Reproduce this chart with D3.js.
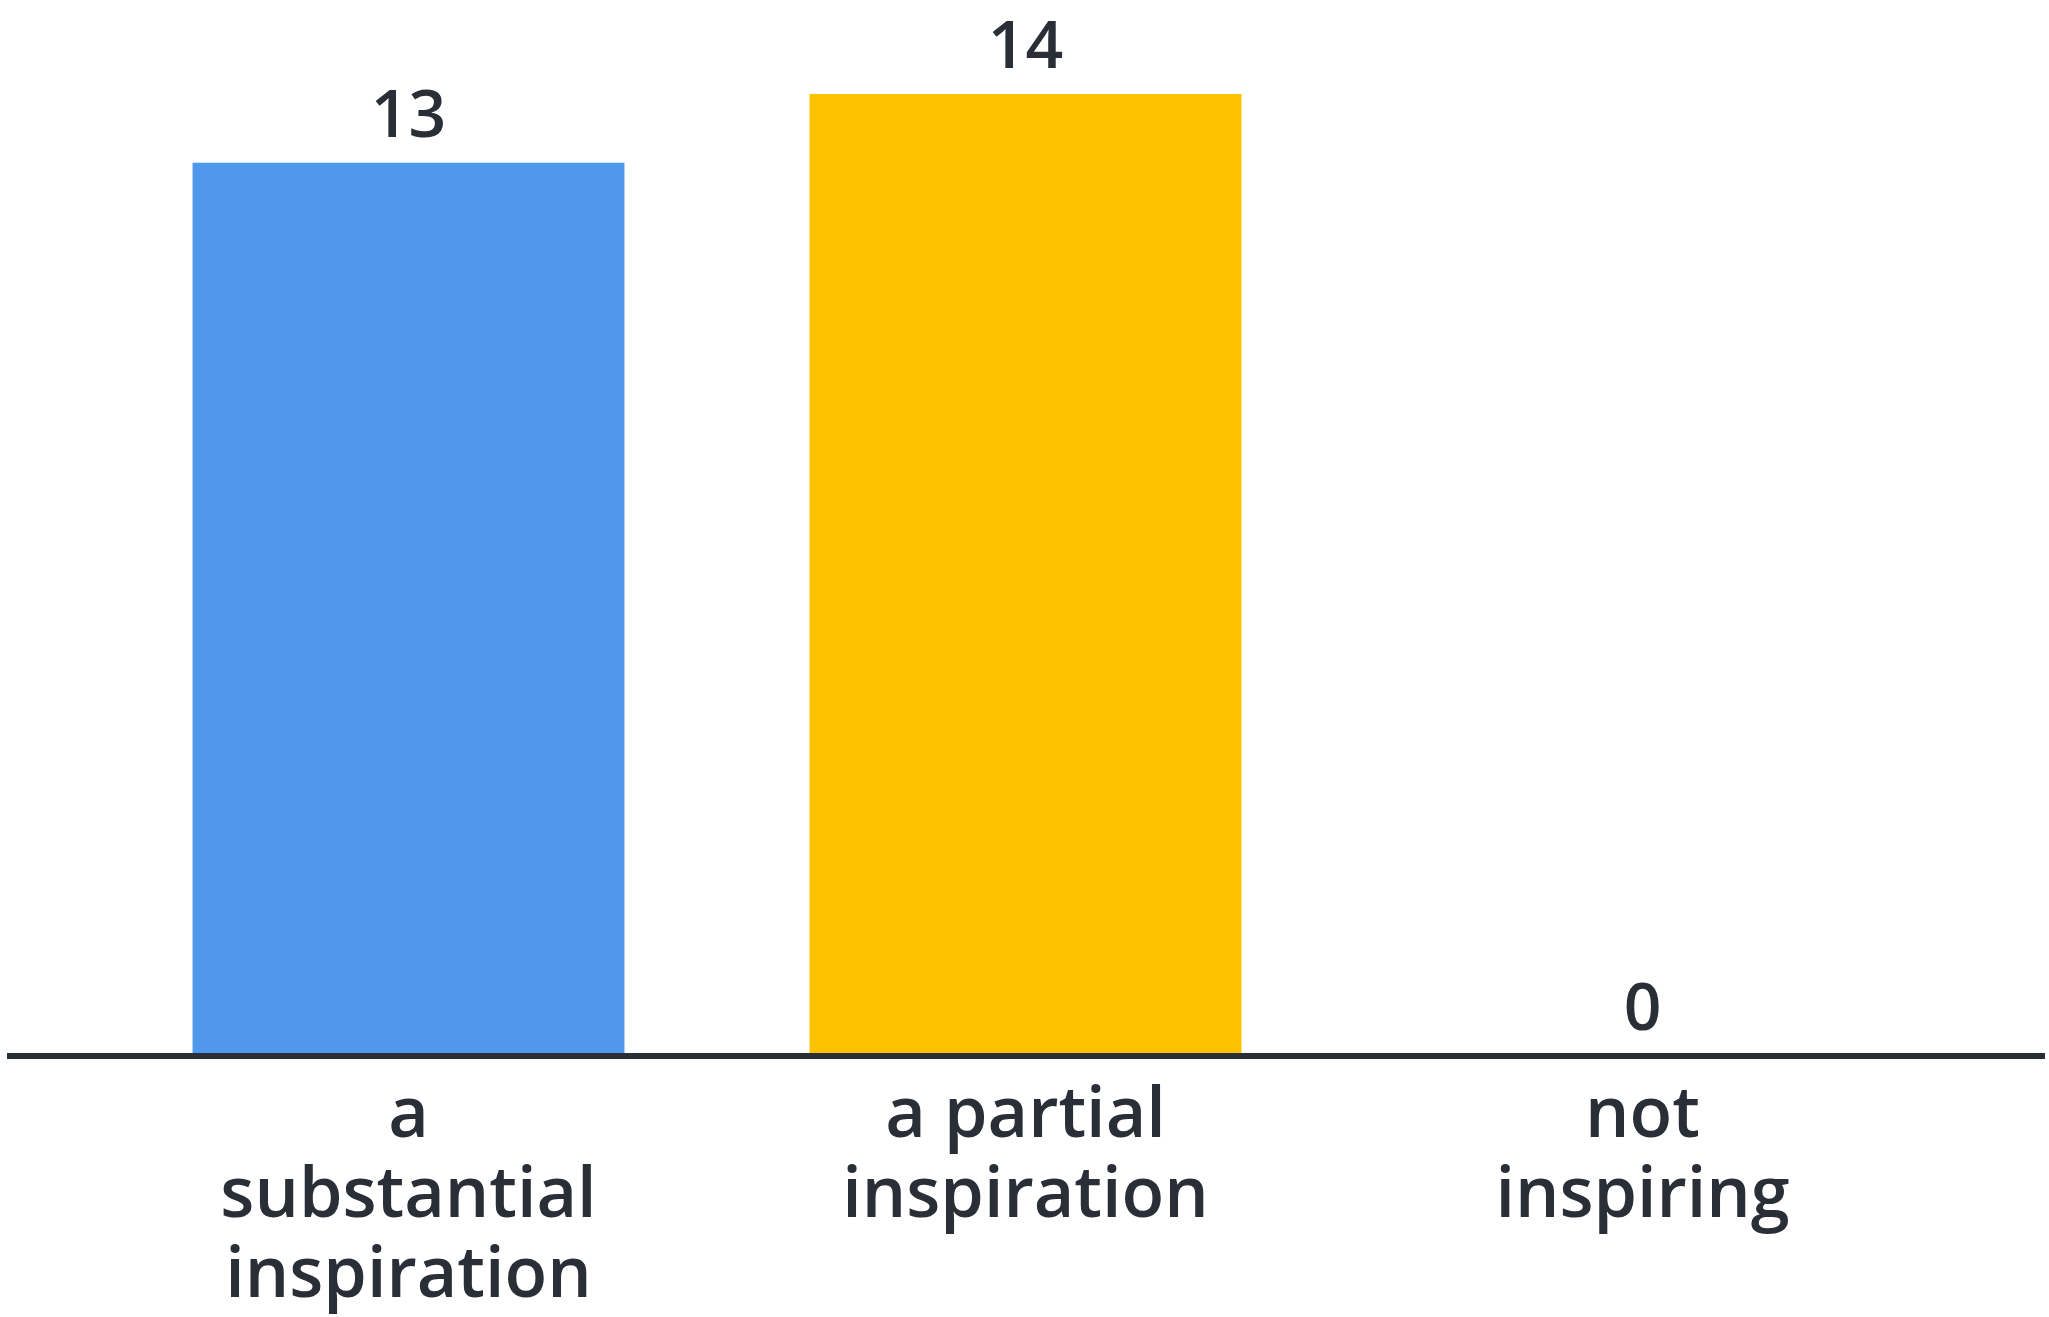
<!DOCTYPE html>
<html>
<head>
<meta charset="utf-8">
<script src="https://cdn.jsdelivr.net/npm/d3@7"></script>
<style>
  html, body { margin: 0; padding: 0; background: #ffffff; }
  svg { display: block; }
</style>
</head>
<body>
<script>
const categories = ["a substantial inspiration", "a partial inspiration", "not inspiring"];
const labelLines = [["a", "substantial", "inspiration"], ["a partial", "inspiration"], ["not", "inspiring"]];
const values = [13, 14, 0];
const colors = ["#4f98ec", "#fcc200", "#9aa0a6"];

const W = 2049, H = 1317;
const baseY = 1056;
const svg = d3.select("body").append("svg").attr("width", W).attr("height", H);

const x = d3.scaleBand().domain(categories).range([100, 1951]).paddingInner(0.3).paddingOuter(0.15);
const y = d3.scaleLinear().domain([0, 14]).range([baseY, 94]);

const font = "'Open Sans', sans-serif";
const textColor = "#2a2e36";

svg.selectAll("rect.bar").data(categories).enter().append("rect")
  .attr("class", "bar")
  .attr("x", d => x(d))
  .attr("width", x.bandwidth())
  .attr("y", (d, i) => y(values[i]))
  .attr("height", (d, i) => baseY - y(values[i]))
  .attr("fill", (d, i) => colors[i]);

// axis baseline
const axis = d3.axisBottom(x).tickSize(0).tickFormat("");
const gAxis = svg.append("g").attr("transform", `translate(0,${baseY})`).call(axis);
gAxis.select(".domain").remove();
gAxis.append("line")
  .attr("x1", 7).attr("x2", 2045).attr("y1", 0).attr("y2", 0)
  .attr("stroke", textColor).attr("stroke-width", 6);

// value labels
svg.selectAll("text.val").data(categories).enter().append("text")
  .attr("class", "val")
  .attr("x", d => x(d) + x.bandwidth() / 2)
  .attr("y", (d, i) => y(values[i]) - 26)
  .attr("text-anchor", "middle")
  .attr("font-family", font)
  .attr("font-weight", 600)
  .attr("font-size", 66)
  .attr("fill", textColor)
  .text((d, i) => values[i]);

// category labels, one text per line
const rows = [];
categories.forEach((c, i) => labelLines[i].forEach((line, j) => rows.push({ c, line, j })));
svg.selectAll("text.cat").data(rows).enter().append("text")
  .attr("class", "cat")
  .attr("x", d => x(d.c) + x.bandwidth() / 2)
  .attr("y", d => 1137 + d.j * 80)
  .attr("text-anchor", "middle")
  .attr("font-family", font)
  .attr("font-weight", 600)
  .attr("font-size", 70)
  .attr("fill", textColor)
  .text(d => d.line);
</script>
</body>
</html>
